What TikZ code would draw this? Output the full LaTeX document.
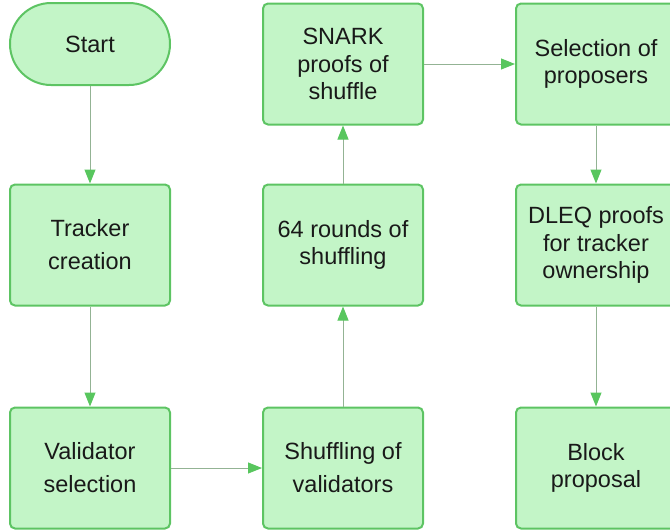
\documentclass[tikz,border=0pt]{standalone}
\usepackage{fontspec}
\setmainfont{Liberation Sans}
\usetikzlibrary{arrows.meta}
\definecolor{boxfill}{HTML}{C3F5C7}
\definecolor{boxline}{HTML}{5DC463}
\definecolor{linkline}{HTML}{93B394}
\definecolor{tipfill}{HTML}{58C65E}
\tikzset{
  every node/.style={font=\fontsize{23.5}{27.5}\selectfont, align=center, text=black!90},
  widelines/.style={font=\fontsize{23.5}{33}\selectfont},
  stepbox/.style={draw=boxline, fill=boxfill, line width=2pt, rounded corners=5pt,
    minimum width=160pt, minimum height=121pt, inner sep=0pt},
  startbox/.style={draw=boxline, fill=boxfill, line width=2pt, rounded corners=41pt,
    minimum width=160pt, minimum height=82pt, inner sep=0pt},
  link/.style={draw=linkline, line width=1pt,
    -{Triangle[length=14pt,width=11pt,color=tipfill,fill=tipfill]}}
}
\begin{document}
\begin{tikzpicture}[x=1pt,y=-1pt]
  \useasboundingbox (0,0) rectangle (670,531);
  % left column
  \node[startbox] (start) at (90,44) {Start};
  \node[stepbox, widelines] (tracker) at (90,245) {Tracker\\creation};
  \node[stepbox, widelines] (valsel) at (90,468) {Validator\\selection};
  % middle column
  \node[stepbox, widelines] (shufval) at (343,468) {Shuffling of\\validators};
  \node[stepbox] (rounds) at (343,245) {64 rounds of\\shuffling};
  \node[stepbox] (snark) at (343,64) {SNARK\\proofs of\\shuffle};
  % right column
  \node[stepbox] (propsel) at (596,64) {Selection of\\proposers};
  \node[stepbox] (dleq) at (596,245) {DLEQ proofs\\for tracker\\ownership};
  \node[stepbox] (block) at (596,468) {Block\\proposal};
  % connectors
  \draw[link] (start) -- (tracker);
  \draw[link] (tracker) -- (valsel);
  \draw[link] (valsel) -- (shufval);
  \draw[link] (shufval) -- (rounds);
  \draw[link] (rounds) -- (snark);
  \draw[link] (snark) -- (propsel);
  \draw[link] (propsel) -- (dleq);
  \draw[link] (dleq) -- (block);
\end{tikzpicture}
\end{document}
